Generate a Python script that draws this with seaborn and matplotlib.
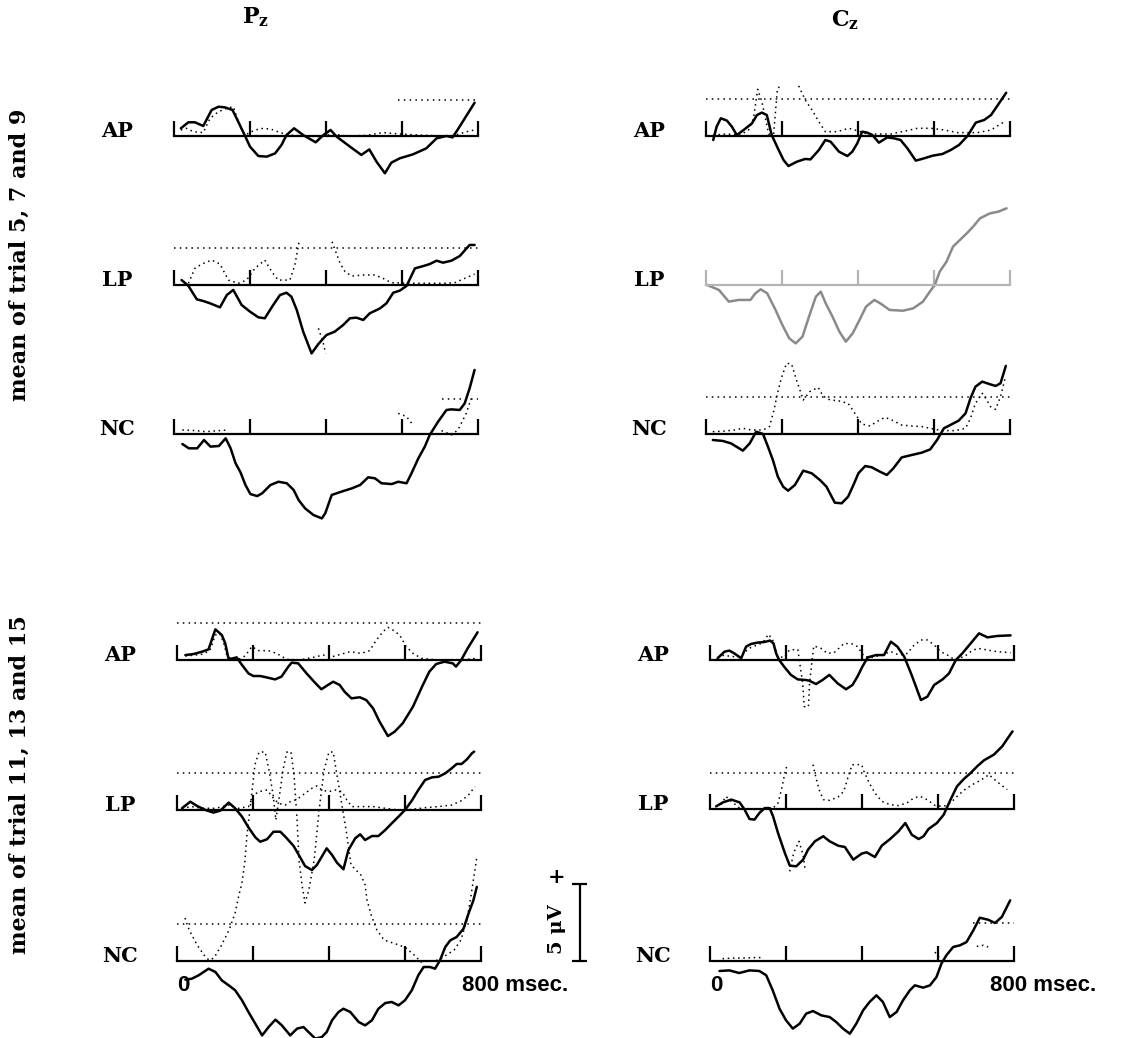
import numpy as np
import pandas as pd
import matplotlib
matplotlib.use("Agg")
import matplotlib.pyplot as plt
import seaborn as sns

# ---- data (msec, microvolt) ----
# trials 5, 7 and 9 -- Pz
PZ1_AP_T = [18, 38, 55, 77, 99, 117, 134, 154, 169, 187, 200, 222, 244, 266, 283, 296, 316, 340, 373, 393, 412, 428, 463, 493, 514, 533, 555, 572, 594, 629, 664, 691, 717, 733, 746, 791]
PZ1_AP = [0.50, 0.89, 0.89, 0.65, 1.69, 1.90, 1.86, 1.69, 0.93, 0.0, -0.69, -1.30, -1.34, -1.13, -0.58, 0.06, 0.50, 0.06, -0.41, 0.06, 0.39, -0.04, -0.69, -1.23, -0.87, -1.67, -2.42, -1.73, -1.45, -1.19, -0.80, -0.15, 0.0, -0.09, 0.39, 2.16]
PZ1_AP_DT = [18, 33, 51, 77, 95, 117, 139, 156, 174, 187, 213, 235, 257, 279, 305, 340, 384, 419, 454, 507, 550, 594, 647, 708, 734, 770, 791]
PZ1_AP_D = [0.39, 0.50, 0.28, 0.22, 1.15, 1.58, 1.80, 1.90, 0.61, 0.06, 0.39, 0.50, 0.43, 0.22, 0.06, 0.0, -0.04, 0.13, 0.0, 0.04, 0.22, 0.13, 0.06, 0.0, 0.0, 0.28, 0.39]

PZ1_LP_T = [20, 38, 60, 77, 95, 121, 139, 156, 178, 200, 222, 239, 261, 279, 296, 309, 323, 340, 362, 380, 401, 423, 445, 463, 480, 498, 515, 542, 559, 577, 594, 612, 634, 656, 673, 691, 708, 730, 752, 770, 778, 791]
PZ1_LP = [0.32, -0.06, -0.93, -1.04, -1.19, -1.45, -0.65, -0.32, -1.30, -1.73, -2.10, -2.16, -1.30, -0.65, -0.50, -0.76, -1.62, -3.03, -4.44, -3.83, -3.25, -3.03, -2.60, -2.16, -2.12, -2.27, -1.84, -1.52, -1.19, -0.50, -0.37, -0.06, 1.08, 1.23, 1.36, 1.58, 1.45, 1.58, 1.88, 2.38, 2.60, 2.60]
PZ1_LP_DT = [38, 55, 73, 99, 121, 143, 169, 191, 213, 239, 257, 274, 305, 318, 330, 355, 380, 393, 399, 408, 416, 437, 450, 467, 498, 529, 550, 572, 629, 664, 708, 739, 765, 791]
PZ1_LP_D = [0.11, 1.08, 1.36, 1.62, 1.36, 0.32, 0.11, 0.32, 1.08, 1.62, 0.87, 0.32, 0.32, 1.30, 2.92, np.nan, -2.81, -3.79, -4.44, np.nan, 2.81, 1.41, 0.87, 0.58, 0.65, 0.65, 0.43, 0.15, 0.11, 0.11, 0.11, 0.15, 0.43, 0.71]

PZ1_NC_T = [22, 39, 61, 79, 96, 118, 136, 149, 162, 175, 188, 201, 219, 232, 254, 275, 297, 315, 328, 345, 367, 389, 398, 415, 441, 468, 490, 511, 529, 546, 573, 590, 612, 625, 643, 660, 673, 695, 717, 730, 752, 765, 778, 791]
PZ1_NC = [-0.65, -0.93, -0.93, -0.39, -0.82, -0.78, -0.28, -0.93, -1.90, -2.49, -3.31, -3.90, -4.03, -3.85, -3.31, -3.10, -3.20, -3.64, -4.29, -4.83, -5.26, -5.48, -5.15, -3.96, -3.74, -3.53, -3.31, -2.81, -2.88, -3.20, -3.25, -3.10, -3.20, -2.55, -1.58, -0.82, -0.06, 0.80, 1.56, 1.60, 1.56, 1.99, 2.97, 4.16]
PZ1_NC_DT = [22, 57, 83, 118, 144, 160, 590, 612, 629, 660, 704, 730, 747, 769, 782]
PZ1_NC_D = [0.26, 0.22, 0.15, 0.22, 0.26, np.nan, 1.34, 1.13, 0.58, np.nan, 0.22, -0.06, 0.26, 1.34, 2.30]

# trials 5, 7 and 9 -- Cz
CZ1_AP_T = [19, 28, 39, 55, 68, 81, 99, 121, 134, 147, 160, 173, 187, 204, 217, 239, 261, 275, 297, 314, 328, 350, 372, 385, 398, 411, 424, 438, 455, 477, 495, 512, 530, 552, 574, 596, 622, 644, 666, 688, 710, 732, 750, 768, 790]
CZ1_AP = [-0.26, 0.61, 1.15, 1.00, 0.61, 0.06, 0.39, 0.82, 1.36, 1.52, 1.36, 0.06, -0.69, -1.56, -1.95, -1.67, -1.49, -1.52, -0.91, -0.26, -0.37, -1.02, -1.30, -1.02, -0.48, 0.28, 0.22, 0.06, -0.43, -0.09, -0.15, -0.26, -0.80, -1.60, -1.45, -1.28, -1.17, -0.91, -0.58, 0.0, 0.87, 1.04, 1.36, 2.01, 2.81]
CZ1_AP_DT = [19, 55, 90, 112, 125, 136, 147, 165, 178, 188, 194, 220, 244, 261, 279, 297, 314, 345, 376, 398, 424, 486, 530, 556, 592, 627, 662, 715, 750, 785]
CZ1_AP_D = [0.06, 0.13, 0.06, 0.39, 1.15, 3.03, 2.23, 0.13, 0.13, 3.10, 3.20, np.nan, 3.25, 2.34, 1.69, 0.93, 0.28, 0.28, 0.50, 0.35, 0.13, 0.13, 0.35, 0.50, 0.50, 0.39, 0.22, 0.22, 0.39, 0.93]

CZ1_LP_T = [3, 34, 60, 86, 117, 130, 144, 161, 183, 201, 219, 236, 254, 271, 289, 302, 315, 333, 351, 368, 386, 404, 421, 443, 461, 483, 518, 545, 571, 589, 602, 615, 633, 650, 668, 686, 703, 721, 747, 769, 791]
CZ1_LP = [0.0, -0.32, -1.08, -0.97, -0.97, -0.54, -0.28, -0.54, -1.62, -2.60, -3.46, -3.79, -3.35, -2.06, -0.76, -0.43, -1.19, -2.06, -3.03, -3.68, -3.14, -2.27, -1.41, -0.97, -1.23, -1.62, -1.67, -1.52, -1.08, -0.43, 0.0, 0.87, 1.52, 2.49, 2.92, 3.35, 3.79, 4.33, 4.65, 4.76, 4.98]

CZ1_NC_T = [18, 44, 66, 97, 115, 132, 150, 163, 176, 189, 203, 216, 234, 256, 278, 300, 317, 339, 357, 374, 388, 401, 419, 436, 458, 476, 493, 515, 542, 568, 590, 608, 626, 648, 665, 683, 696, 709, 727, 745, 762, 775, 789]
CZ1_NC = [-0.39, -0.45, -0.61, -1.08, -0.61, 0.15, 0.0, -0.82, -1.69, -2.77, -3.42, -3.68, -3.31, -2.38, -2.55, -2.99, -3.42, -4.46, -4.50, -4.07, -3.31, -2.55, -2.08, -2.16, -2.45, -2.66, -2.23, -1.52, -1.36, -1.21, -1.00, -0.39, 0.37, 0.65, 0.87, 1.34, 2.32, 3.07, 3.40, 3.25, 3.12, 3.29, 4.42]
CZ1_NC_DT = [18, 49, 75, 97, 119, 150, 167, 179, 188, 198, 212, 225, 238, 256, 273, 295, 308, 326, 348, 374, 392, 410, 432, 449, 471, 489, 515, 542, 568, 590, 621, 656, 683, 696, 709, 727, 736, 749, 762, 775, 787]
CZ1_NC_D = [0.15, 0.19, 0.26, 0.37, 0.26, 0.26, 0.48, 1.56, 2.64, 3.61, 4.59, 4.55, 3.51, 2.21, 2.75, 3.03, 2.47, 2.21, 2.16, 1.99, 1.34, 0.65, 0.52, 0.80, 1.08, 0.91, 0.58, 0.52, 0.48, 0.37, 0.22, 0.22, 0.37, 1.02, 1.99, 2.64, 2.32, 1.77, 1.60, 2.42, 3.61]

# trials 11, 13 and 15 -- Pz
PZ2_AP_T = [22, 44, 66, 83, 101, 118, 127, 136, 157, 171, 188, 201, 219, 236, 258, 275, 293, 302, 319, 341, 363, 380, 393, 411, 428, 441, 459, 481, 498, 516, 533, 555, 573, 594, 621, 647, 664, 682, 704, 726, 734, 747, 765, 791]
PZ2_AP = [0.32, 0.39, 0.54, 0.69, 1.99, 1.62, 1.08, 0.04, 0.17, -0.32, -0.87, -1.04, -1.04, -1.13, -1.26, -1.08, -0.43, -0.17, -0.22, -0.87, -1.47, -1.90, -1.69, -1.41, -1.62, -2.06, -2.49, -2.42, -2.60, -3.14, -4.00, -4.94, -4.65, -4.11, -3.03, -1.62, -0.76, -0.26, -0.11, -0.22, -0.43, -0.04, 0.76, 1.80]
PZ2_AP_DT = [22, 48, 70, 87, 101, 112, 122, 131, 144, 162, 179, 197, 214, 240, 262, 289, 323, 358, 385, 402, 424, 455, 485, 507, 525, 542, 555, 568, 586, 603, 621, 643, 682, 726, 761, 787]
PZ2_AP_D = [0.26, 0.32, 0.39, 0.65, 1.62, 1.73, 1.19, 0.32, 0.04, 0.04, 0.26, 0.87, 0.61, 0.61, 0.43, 0.04, 0.0, 0.17, 0.32, 0.17, 0.32, 0.54, 0.43, 0.61, 1.30, 1.84, 2.12, 1.95, 1.62, 0.87, 0.43, 0.11, 0.0, 0.0, 0.04, 0.11]

PZ2_LP_T = [13, 35, 53, 75, 96, 114, 136, 153, 171, 188, 206, 219, 237, 254, 272, 289, 307, 324, 337, 355, 368, 381, 394, 408, 421, 438, 451, 469, 482, 495, 513, 530, 548, 565, 583, 600, 618, 635, 653, 671, 688, 706, 723, 736, 749, 763, 776, 782]
PZ2_LP = [0.11, 0.54, 0.26, 0.0, -0.17, -0.04, 0.48, 0.11, -0.43, -1.13, -1.77, -2.06, -1.90, -1.41, -1.41, -1.84, -2.34, -3.07, -3.64, -3.90, -3.57, -3.03, -2.49, -2.92, -3.42, -3.85, -2.60, -1.84, -1.58, -1.95, -1.69, -1.69, -1.30, -0.87, -0.43, 0.0, 0.61, 1.30, 1.95, 2.12, 2.16, 2.38, 2.71, 2.99, 2.99, 3.29, 3.68, 3.79]
PZ2_LP_DT = [13, 39, 66, 101, 136, 162, 188, 202, 215, 237, 254, 267, 285, 298, 316, 337, 355, 368, 381, 399, 416, 434, 447, 460, 486, 517, 548, 583, 618, 653, 688, 723, 749, 767, 784]
PZ2_LP_D = [0.11, 0.22, 0.11, 0.11, 0.32, 0.11, 0.22, 0.97, 1.19, 1.30, 0.76, 0.43, 0.32, 0.54, 0.69, 1.08, 1.41, 1.56, 1.30, 1.19, 1.30, 1.19, 0.65, 0.22, 0.22, 0.22, 0.11, 0.0, 0.04, 0.15, 0.22, 0.32, 0.61, 0.97, 1.52]

PZ2_NC_T = [22, 39, 57, 83, 101, 118, 136, 153, 171, 188, 206, 224, 241, 259, 276, 298, 316, 333, 346, 364, 381, 394, 408, 425, 438, 456, 478, 495, 513, 530, 548, 565, 583, 600, 618, 635, 649, 666, 679, 692, 706, 719, 736, 754, 767, 780, 789]
PZ2_NC = [-1.21, -1.15, -0.93, -0.50, -0.71, -1.26, -1.58, -1.90, -2.55, -3.31, -4.07, -4.83, -4.29, -3.81, -4.18, -4.83, -4.39, -4.29, -4.61, -5.04, -4.94, -4.61, -3.85, -3.31, -3.10, -3.31, -3.96, -4.18, -3.85, -3.10, -2.73, -2.66, -2.88, -2.55, -1.90, -0.93, -0.39, -0.39, -0.50, 0.04, 0.91, 1.34, 1.56, 2.10, 3.07, 3.94, 4.81]
PZ2_NC_DT = [21, 32, 53, 71, 84, 97, 116, 137, 153, 163, 171, 179, 184, 195, 205, 216, 232, 242, 253, 260, 268, 279, 289, 300, 308, 316, 321, 329, 337, 347, 361, 374, 387, 400, 411, 421, 434, 447, 458, 471, 484, 495, 500, 511, 526, 545, 584, 603, 624, 642, 689, 729, 747, 763, 774, 784, 789]
PZ2_NC_D = [2.79, 2.01, 1.04, 0.39, 0.06, 0.19, 0.97, 2.01, 3.12, 4.29, 5.06, 6.56, 8.18, 10.45, 12.73, 13.57, 13.57, 12.40, 10.78, 9.16, 10.45, 12.40, 13.57, 13.57, 12.08, 9.16, 6.56, 4.94, 3.77, 4.61, 6.56, 9.81, 12.40, 13.57, 13.57, 12.08, 10.13, 8.18, 6.23, 5.91, 5.58, 4.94, 3.96, 2.99, 2.01, 1.36, 1.04, 0.84, 0.39, -0.06, 0.06, 0.71, 1.36, 2.66, 4.29, 5.91, 6.75]

# trials 11, 13 and 15 -- Cz
CZ2_AP_T = [20, 38, 51, 64, 82, 95, 108, 125, 143, 158, 167, 174, 182, 195, 213, 231, 252, 261, 279, 296, 314, 336, 358, 375, 388, 401, 415, 437, 458, 476, 493, 511, 529, 542, 555, 572, 590, 612, 629, 647, 664, 686, 708, 730, 756, 791]
CZ2_AP = [0.11, 0.54, 0.61, 0.43, 0.11, 0.87, 1.04, 1.13, 1.17, 1.26, 1.08, 0.43, 0.0, -0.43, -0.97, -1.26, -1.30, -1.34, -1.56, -1.30, -0.97, -1.52, -1.90, -1.62, -1.08, -0.43, 0.17, 0.32, 0.32, 1.19, 0.87, 0.22, -0.87, -1.73, -2.60, -2.38, -1.62, -1.26, -0.87, 0.0, 0.43, 1.08, 1.73, 1.47, 1.56, 1.60]
CZ2_AP_DT = [20, 38, 55, 82, 99, 112, 125, 139, 154, 165, 178, 195, 209, 231, 244, 248, 259, 262, 273, 292, 309, 327, 353, 375, 388, 406, 428, 450, 476, 498, 520, 533, 555, 572, 590, 607, 625, 642, 669, 686, 704, 730, 756, 791]
CZ2_AP_D = [0.17, 0.32, 0.22, 0.22, 0.69, 0.87, 0.97, 1.13, 1.67, 1.30, 0.22, 0.17, 0.65, 0.69, -1.52, -3.03, -3.03, -1.52, 0.91, 0.76, 0.43, 0.48, 1.08, 1.04, 0.87, 0.22, 0.17, 0.32, 0.54, 0.32, 0.43, 0.87, 1.30, 1.30, 0.97, 0.54, 0.32, 0.04, 0.22, 0.54, 0.76, 0.65, 0.54, 0.48]

CZ2_LP_T = [16, 34, 56, 78, 91, 104, 117, 130, 144, 157, 166, 179, 197, 210, 227, 245, 258, 276, 298, 315, 337, 355, 377, 399, 412, 434, 452, 474, 496, 514, 531, 549, 562, 575, 597, 615, 633, 650, 668, 686, 703, 721, 747, 769, 787, 796]
CZ2_LP = [0.17, 0.43, 0.61, 0.43, -0.04, -0.65, -0.69, -0.26, 0.06, 0.06, -0.48, -1.56, -2.86, -3.68, -3.72, -3.29, -2.64, -2.10, -1.77, -2.10, -2.38, -2.47, -3.29, -2.90, -2.81, -3.12, -2.38, -1.95, -1.45, -0.91, -1.67, -1.95, -1.77, -1.30, -0.91, -0.37, 0.61, 1.47, 1.95, 2.34, 2.77, 3.16, 3.53, 4.07, 4.72, 5.04]
CZ2_LP_DT = [29, 42, 56, 78, 122, 166, 179, 188, 197, 203, 206, 210, 220, 234, 245, 251, 260, 271, 278, 287, 298, 315, 337, 352, 364, 374, 399, 405, 419, 434, 452, 474, 496, 518, 536, 553, 571, 593, 615, 633, 650, 668, 690, 712, 734, 747, 765, 782]
CZ2_LP_D = [0.28, 0.82, 0.50, 0.06, -0.04, 0.06, 0.39, 1.26, 2.34, 2.88, np.nan, -4.05, -2.86, -2.10, -2.97, -4.05, np.nan, 2.88, 2.12, 1.26, 0.61, 0.56, 0.78, 1.15, 2.12, 2.88, 2.88, 2.45, 1.69, 1.04, 0.50, 0.28, 0.22, 0.39, 0.71, 0.82, 0.61, 0.22, 0.17, 0.39, 0.82, 1.21, 1.58, 1.86, 2.23, 1.95, 1.58, 1.26]

CZ2_NC_T = [25, 51, 77, 104, 130, 148, 165, 183, 200, 218, 236, 253, 271, 293, 315, 332, 350, 368, 385, 403, 420, 438, 455, 473, 491, 508, 526, 539, 561, 579, 596, 609, 622, 640, 658, 675, 693, 710, 732, 750, 768, 790]
CZ2_NC = [-0.65, -0.61, -0.78, -0.61, -0.65, -0.93, -1.90, -3.10, -3.85, -4.39, -4.07, -3.42, -3.25, -3.53, -3.64, -3.96, -4.39, -4.72, -4.07, -3.20, -2.66, -2.23, -2.66, -3.64, -3.31, -2.55, -1.90, -1.58, -1.73, -1.58, -1.04, -0.17, 0.37, 0.91, 1.02, 1.23, 1.99, 2.81, 2.68, 2.47, 2.86, 3.94]
CZ2_NC_DT = [33, 60, 86, 113, 139, 300, 592, 603, 650, 702, 719, 732]
CZ2_NC_D = [0.15, 0.19, 0.19, 0.22, 0.22, np.nan, 0.58, 0.22, np.nan, 0.95, 1.02, 0.91]

# dotted reference level (microvolt) and where it starts (msec)
REF_UV = [2.34, 2.38, 2.27, 2.40, None, 2.38, 2.38, 2.42, 2.38, None, 2.34, 2.47]
REF_FROM = [590, 0, 704, 0, 0, 0, 0, 0, 0, 0, 0, 693]

CONDITIONS = ["AP", "LP", "NC"]
GROUP_LABELS = ["mean of trial 5, 7 and 9", "mean of trial 11, 13 and 15"]
SCALE_UV = 5

# ---- layout (pixels of the 1125 x 1038 figure) ----
W, H = 1125, 1038
PX_PER_UV = 15.4
AX_W = 304
YLO, YHI = -6.5, 14.5

panels = [
    # group, col, row, x0, baseline, solid, dotted
    (0, 0, 0, 174, 136, PZ1_AP_T, PZ1_AP, PZ1_AP_DT, PZ1_AP_D),
    (0, 0, 1, 174, 285, PZ1_LP_T, PZ1_LP, PZ1_LP_DT, PZ1_LP_D),
    (0, 0, 2, 174, 434, PZ1_NC_T, PZ1_NC, PZ1_NC_DT, PZ1_NC_D),
    (0, 1, 0, 706, 136, CZ1_AP_T, CZ1_AP, CZ1_AP_DT, CZ1_AP_D),
    (0, 1, 1, 706, 285, CZ1_LP_T, CZ1_LP, None, None),
    (0, 1, 2, 706, 434, CZ1_NC_T, CZ1_NC, CZ1_NC_DT, CZ1_NC_D),
    (1, 0, 0, 177, 660, PZ2_AP_T, PZ2_AP, PZ2_AP_DT, PZ2_AP_D),
    (1, 0, 1, 177, 810, PZ2_LP_T, PZ2_LP, PZ2_LP_DT, PZ2_LP_D),
    (1, 0, 2, 177, 961, PZ2_NC_T, PZ2_NC, PZ2_NC_DT, PZ2_NC_D),
    (1, 1, 0, 710, 660, CZ2_AP_T, CZ2_AP, CZ2_AP_DT, CZ2_AP_D),
    (1, 1, 1, 710, 809, CZ2_LP_T, CZ2_LP, CZ2_LP_DT, CZ2_LP_D),
    (1, 1, 2, 710, 961, CZ2_NC_T, CZ2_NC, CZ2_NC_DT, CZ2_NC_D),
]

sns.set_style("white")
plt.rcParams["font.family"] = ["DejaVu Serif"]
plt.rcParams["mathtext.fontset"] = "dejavuserif"
plt.rcParams["text.color"] = "black"

fig = plt.figure(figsize=(W / 100, H / 100), dpi=100)


def seg_frame(t, v):
    d = pd.DataFrame({"ms": t, "uv": np.array(v, dtype=float)})
    d["seg"] = d["uv"].isna().cumsum()
    return d.dropna()


axes = []
for i, (grp, col, row, x0, base, st, sv, dt, dv) in enumerate(panels):
    bottom_px = base - YLO * PX_PER_UV
    ax = fig.add_axes([x0 / W, 1 - bottom_px / H, AX_W / W, (YHI - YLO) * PX_PER_UV / H])
    ax.patch.set_alpha(0)
    faded = (grp == 0 and col == 1 and row == 1)
    ink = "#b4b4b4" if faded else "black"
    line_ink = "#8a8a8a" if faded else "black"

    if dt is not None:
        sns.lineplot(data=seg_frame(dt, dv), x="ms", y="uv", units="seg", estimator=None,
                     sort=False, color="black", lw=1.1, linestyle=(0, (1, 2.4)), ax=ax)
    if REF_UV[i] is not None:
        ax.hlines(REF_UV[i], REF_FROM[i], 800, color="black", lw=1.1, linestyle=(0, (1, 2.8)))
    sns.lineplot(x=st, y=sv, color=line_ink, lw=1.8, estimator=None, sort=False, ax=ax)

    ax.set_xlim(0, 800)
    ax.set_ylim(YLO, YHI)
    for s in ["left", "right", "top"]:
        ax.spines[s].set_visible(False)
    ax.spines["bottom"].set_position(("data", 0))
    ax.spines["bottom"].set_linewidth(1.6)
    ax.spines["bottom"].set_color(ink)
    ax.set_xticks([0, 200, 400, 600, 800])
    ax.set_yticks([])
    ax.tick_params(axis="x", bottom=True, direction="in", length=10.8, width=1.6,
                   color=ink, labelbottom=False)
    ax.set_xlabel("")
    ax.set_ylabel("")

    ax.text(-150, 0.35, CONDITIONS[row], ha="center", va="center",
            fontsize=15, fontweight="bold")

    if row == 2 and grp == 1:
        ax.text(0, -1.6, "0", ha="left", va="center", fontsize=16,
                fontweight="bold", family="Liberation Sans")
        ax.text(750 if col == 0 else 737, -1.6, "800 msec.", ha="left", va="center",
                fontsize=16, fontweight="bold", family="Liberation Sans")
    axes.append(ax)

# scale bar next to the lower-left NC panel
sax = axes[8]
sax.vlines(1060, 0, SCALE_UV, color="black", lw=1.6, clip_on=False)
sax.hlines([0, SCALE_UV], 1040, 1080, color="black", lw=1.6, clip_on=False)
sax.text(1000, SCALE_UV + 0.45, "+", ha="center", va="center", fontsize=15, fontweight="bold")
sax.text(1000, SCALE_UV * 0.42, "5 μV", ha="center", va="center", rotation=90,
         fontsize=14, fontweight="bold")

# column titles
fig.text(256 / W, 1 - 17 / H, r"$\mathbf{P_z}$", ha="center", va="center", fontsize=16)
fig.text(845 / W, 1 - 20 / H, r"$\mathbf{C_z}$", ha="center", va="center", fontsize=16)

# row-group labels
fig.text(20 / W, 1 - 255 / H, GROUP_LABELS[0], rotation=90, ha="center", va="center",
         fontsize=16, fontweight="bold")
fig.text(20 / W, 1 - 785 / H, GROUP_LABELS[1], rotation=90, ha="center", va="center",
         fontsize=16, fontweight="bold")

fig.savefig("out.png", dpi=100)
